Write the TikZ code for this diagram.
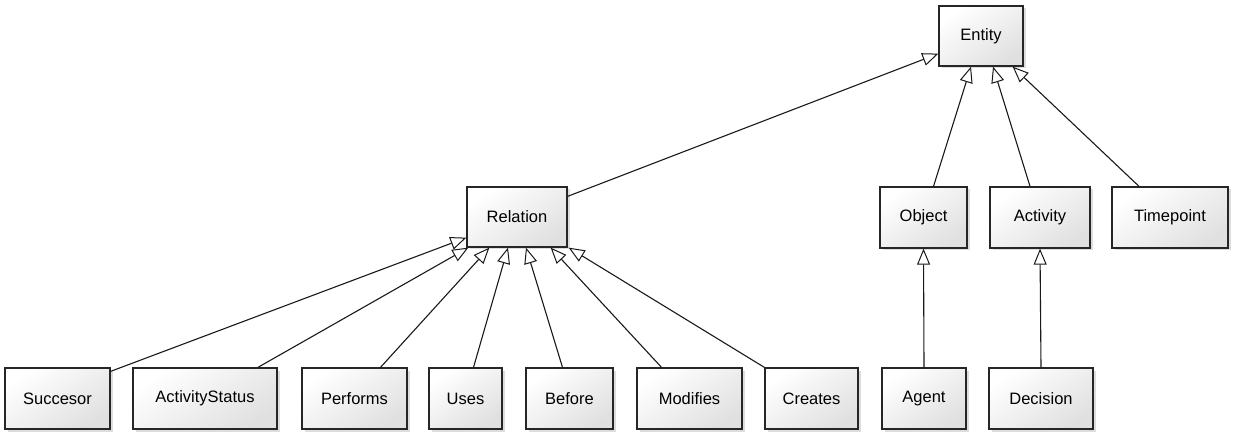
\documentclass[tikz,border=0pt]{standalone}
\usepackage{fontspec}
\setmainfont{Liberation Sans}
\usetikzlibrary{arrows.meta,shadows}
\begin{document}
\begin{tikzpicture}[x=1pt,y=-1pt,
  cls/.style={draw=black!85, line width=1.3pt, rectangle, inner sep=0pt,
    top color=white, bottom color=black!12, shading angle=35,
    minimum height=60pt, font=\fontsize{16.5}{19}\selectfont,
    drop shadow={shadow xshift=2.5pt, shadow yshift=-2.5pt, fill=black!22, opacity=0.6}},
  gen/.style={line width=1.1pt, draw=black!90,
    -{Triangle[length=16pt, width=13pt, fill=white, line width=1pt]}},
]
\useasboundingbox (0,0) rectangle (1233,435);
% top level
\node[cls, minimum width=84pt] (ent) at (981,36) {Entity};
% middle row
\node[cls, minimum width=100pt] (rel) at (517,217) {Relation};
\node[cls, minimum width=87pt, minimum height=61pt] (obj) at (923.5,217.5) {Object};
\node[cls, minimum width=100pt, minimum height=61pt] (act) at (1040,217.5) {Activity};
\node[cls, minimum width=116pt, minimum height=61pt] (tim) at (1170,217.5) {Timepoint};
% bottom row
\node[cls, minimum width=105pt, minimum height=61pt] (suc) at (57.5,398.5) {Succesor};
\node[cls, minimum width=144pt, minimum height=61pt] (ast) at (205,398.5) {ActivityStatus};
\node[cls, minimum width=105pt, minimum height=61pt] (per) at (354.5,398.5) {Performs};
\node[cls, minimum width=73pt, minimum height=61pt] (use) at (465.5,398.5) {Uses};
\node[cls, minimum width=87pt, minimum height=61pt] (bef) at (569.5,398.5) {Before};
\node[cls, minimum width=105pt, minimum height=61pt] (mod) at (689.5,398.5) {Modifies};
\node[cls, minimum width=93pt, minimum height=61pt] (cre) at (811.5,398.5) {Creates};
\node[cls, minimum width=84pt, minimum height=61pt] (age) at (924,398.5) {Agent};
\node[cls, minimum width=104pt, minimum height=61pt] (dec) at (1041,398.5) {Decision};
% generalizations to Entity
\draw[gen] ([yshift=-10pt]rel.north east) -- ([yshift=13pt]ent.south west);
\draw[gen] ([xshift=10pt]obj.north) -- ([xshift=-10pt]ent.south);
\draw[gen] ([xshift=-10pt]act.north) -- ([xshift=12pt]ent.south);
\draw[gen] ([xshift=-31pt]tim.north) -- ([xshift=-11pt]ent.south east);
% generalizations to Object / Activity
\draw[gen] (age.north) -- (obj.south);
\draw[gen] (dec.north) -- (act.south);
% generalizations to Relation
\draw[gen] ([yshift=-4pt]suc.north east) -- ([yshift=10pt]rel.south west);
\draw[gen] ([xshift=53pt]ast.north) -- ([xshift=2pt]rel.south west);
\draw[gen] ([xshift=26pt]per.north) -- ([xshift=23pt]rel.south west);
\draw[gen] ([xshift=8pt]use.north) -- ([xshift=-9pt]rel.south);
\draw[gen] ([xshift=-7pt]bef.north) -- ([xshift=9pt]rel.south);
\draw[gen] ([xshift=-28pt]mod.north) -- ([xshift=-17pt]rel.south east);
\draw[gen] (cre.north west) -- ([xshift=1pt]rel.south east);
\end{tikzpicture}
\end{document}
